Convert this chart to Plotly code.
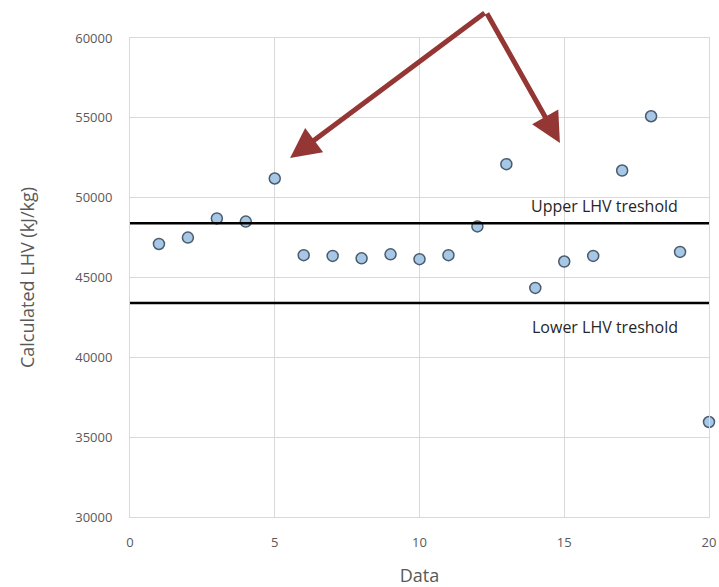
import plotly.graph_objects as go

data_index = list(range(1, 21))
lhv_values = [47100, 47500, 48700, 48500, 51200, 46400, 46350, 46200, 46450, 46150,
              46400, 48200, 52100, 44350, 46000, 46350, 51700, 55100, 46600, 35950]
upper_threshold = 48400
lower_threshold = 43400
x_ticks = [0, 5, 10, 15, 20]
y_ticks = [30000, 35000, 40000, 45000, 50000, 55000, 60000]

fig = go.Figure()
fig.add_trace(go.Scatter(
    x=data_index, y=lhv_values, mode="markers",
    marker=dict(size=11, color="#A7C7E7", line=dict(color="#4A5B6C", width=1.5)),
    showlegend=False, cliponaxis=False,
))

for yv in (upper_threshold, lower_threshold):
    fig.add_shape(type="line", xref="paper", x0=0, x1=1, yref="y", y0=yv, y1=yv,
                  line=dict(color="black", width=2.5))

txt_font = dict(family="Open Sans", size=16, color="#262626")
fig.add_annotation(x=16.4, y=upper_threshold, yshift=17, text="Upper LHV treshold",
                   showarrow=False, font=txt_font)
fig.add_annotation(x=16.4, y=lower_threshold, yshift=-24, text="Lower LHV treshold",
                   showarrow=False, font=txt_font)

arrow_color = "#943634"
for hx, hy in [(5.53, 52480), (14.85, 53420)]:
    fig.add_annotation(x=hx, y=hy, ax=12.3, ay=61630, axref="x", ayref="y",
                       xref="x", yref="y", text="", showarrow=True,
                       arrowhead=2, arrowsize=1.2, arrowwidth=5, arrowcolor=arrow_color,
                       standoff=0, startstandoff=0)

axis_font = dict(family="Open Sans", size=13, color="#595959")
fig.update_xaxes(range=[0, 20], tickvals=x_ticks, ticktext=[str(v) for v in x_ticks],
                 showgrid=True, gridcolor="#D9D9D9", automargin=False,
                 gridwidth=1, zeroline=False, showline=True, mirror=True,
                 linecolor="#D9D9D9", linewidth=1, tickfont=axis_font,
                 ticks="outside", ticklen=13, tickcolor="rgba(0,0,0,0)",
                 title=dict(text="Data", font=dict(family="Open Sans", size=18, color="#595959"),
                            standoff=20))
fig.update_yaxes(range=[30000, 60000], tickvals=y_ticks, ticktext=[str(v) for v in y_ticks],
                 showgrid=True, gridcolor="#D9D9D9", automargin=False,
                 gridwidth=1, zeroline=False, showline=True, mirror=True,
                 linecolor="#D9D9D9", linewidth=1, tickfont=axis_font,
                 ticks="outside", ticklen=14, tickcolor="rgba(0,0,0,0)",
                 title=dict(text="Calculated LHV (kJ/kg)",
                            font=dict(family="Open Sans", size=18, color="#595959"),
                            standoff=35))

fig.update_layout(width=719, height=587, margin=dict(l=130, r=10, t=38, b=70),
                  plot_bgcolor="white", paper_bgcolor="white")

fig.write_html("out.html", config={"displayModeBar": False},
               post_script="document.body.style.margin='0';")
